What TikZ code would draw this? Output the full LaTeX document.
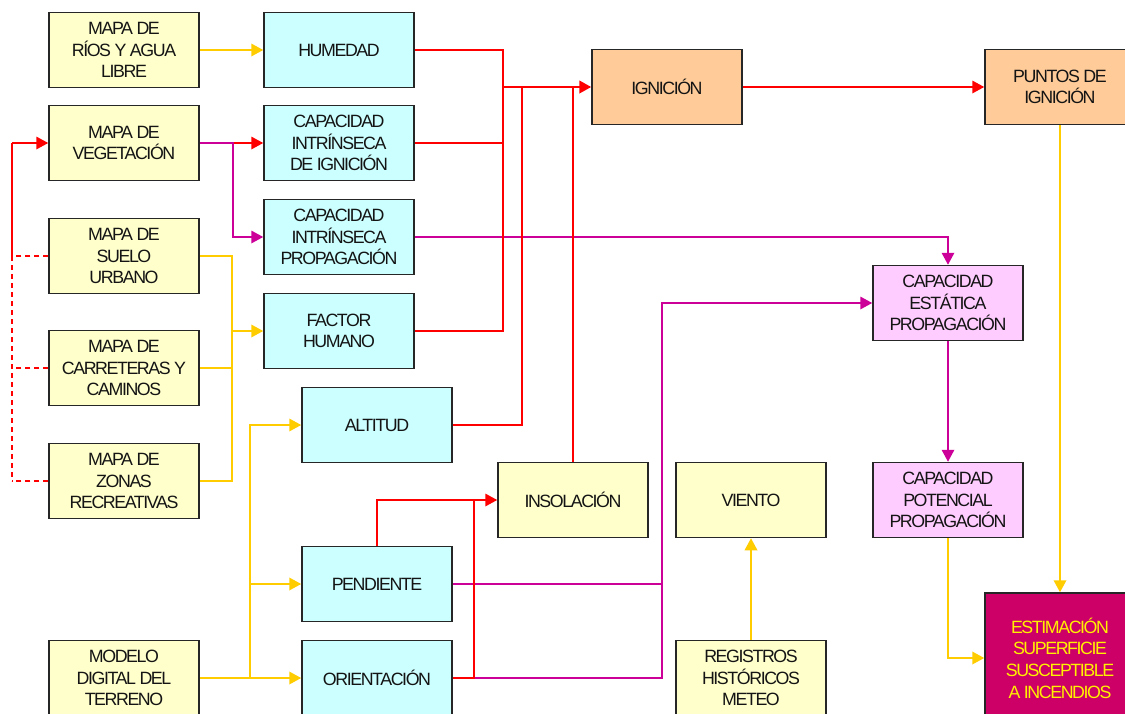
\documentclass[tikz,border=0pt]{standalone}
\usepackage{fontspec}
\setmainfont{Liberation Sans}[LetterSpace=-8]
\usetikzlibrary{arrows.meta}

\definecolor{boxyellow}{HTML}{FFFFCC}
\definecolor{boxcyan}{HTML}{CCFFFF}
\definecolor{boxorange}{HTML}{FFCC99}
\definecolor{boxpink}{HTML}{FFCCFF}
\definecolor{boxcrimson}{HTML}{CC0066}
\definecolor{lnyellow}{HTML}{FFCC00}
\definecolor{lnred}{HTML}{FF0000}
\definecolor{lnmag}{HTML}{CC0099}
\definecolor{txt}{HTML}{141414}

\tikzset{
  blk/.style={draw=black!85, line width=1.5pt, rectangle, minimum width=150pt,
    minimum height=75pt, inner sep=0pt, align=center, text=txt,
    font=\fontsize{17.8pt}{21.7pt}\selectfont},
  ybox/.style={blk, fill=boxyellow},
  cbox/.style={blk, fill=boxcyan},
  obox/.style={blk, fill=boxorange},
  pbox/.style={blk, fill=boxpink},
  tip/.style={-{Triangle[length=12pt,width=12.5pt]}},
  yl/.style={draw=lnyellow, line width=1.9pt},
  rd/.style={draw=lnred, line width=1.8pt},
  mg/.style={draw=lnmag, line width=1.8pt},
  rdash/.style={rd, dash pattern=on 5pt off 4pt},
}

\begin{document}
\begin{tikzpicture}[x=1pt, y=-1pt]
\useasboundingbox (0,0) rectangle (1125,713);
\clip (0,0) rectangle (1125,713);

% source maps
\node[ybox] (rios)  at (124,50)  {MAPA DE\\RÍOS Y AGUA\\LIBRE};
\node[ybox] (veg)   at (124,143) {MAPA DE\\VEGETACIÓN};
\node[ybox] (suelo) at (124,256) {MAPA DE\\SUELO\\URBANO};
\node[ybox] (carr)  at (124,368) {MAPA DE\\CARRETERAS Y\\CAMINOS};
\node[ybox] (zonas) at (124,481) {MAPA DE\\ZONAS\\RECREATIVAS};
\node[ybox] (mdt)   at (124,678) {MODELO\\DIGITAL DEL\\TERRENO};

% derived factors
\node[cbox] (hum)    at (339,50)  {HUMEDAD};
\node[cbox] (cii)    at (339,143) {CAPACIDAD\\INTRÍNSECA\\DE IGNICIÓN};
\node[cbox] (cip)    at (339,237) {CAPACIDAD\\INTRÍNSECA\\PROPAGACIÓN};
\node[cbox] (fh)     at (339,331) {FACTOR\\HUMANO};
\node[cbox] (alt)    at (377,425) {ALTITUD};
\node[cbox] (pend)   at (377,584) {PENDIENTE};
\node[cbox] (orient) at (377,678) {ORIENTACIÓN};

\node[ybox] (insol)  at (573,500) {INSOLACIÓN};
\node[ybox] (viento) at (751,500) {VIENTO};
\node[ybox] (reg)    at (751,678) {REGISTROS\\HISTÓRICOS\\METEO};

% results
\node[obox] (ign)    at (667,87)  {IGNICIÓN};
\node[obox] (puntos) at (1060,87) {PUNTOS DE\\IGNICIÓN};
\node[pbox] (cep)    at (948,303) {CAPACIDAD\\ESTÁTICA\\PROPAGACIÓN};
\node[pbox] (cpp)    at (948,500) {CAPACIDAD\\POTENCIAL\\PROPAGACIÓN};
\node[blk, fill=boxcrimson, text=yellow, minimum height=130pt] (est) at (1060,658)
  {ESTIMACIÓN\\SUPERFICIE\\SUSCEPTIBLE\\A INCENDIOS};

% junction points
\coordinate (lx) at (12,143);
\coordinate (lxs) at (12,256);
\coordinate (jf) at (232,331);
\coordinate (jm) at (250,678);
\coordinate (ja) at (503,87);
\coordinate (jb) at (522,87);
\coordinate (jc) at (662,303);
\coordinate (jo) at (474,678);

% feedback from urban layers to vegetation
\draw[rd, tip] (lx) -- (veg.west);
\draw[rd] (lx) -- (lxs);
\draw[rdash] (lxs) -- (lxs |- zonas.west);
\draw[rdash] (suelo.west) -- (lxs);
\draw[rdash] (carr.west) -- (carr.west -| lx);
\draw[rdash] (zonas.west) -- (zonas.west -| lx);

% map inputs
\draw[yl, tip] (rios) -- (hum);
\draw[rd, tip] (veg.east) -- (cii.west);
\draw[mg, tip] (veg.east) -- ++(33,0) |- (cip.west);
\draw[yl] (suelo.east) -| (jf);
\draw[yl] (zonas.east) -| (jf);
\draw[yl] (carr.east) -- (carr.east -| jf);
\draw[yl, tip] (jf) -- (fh.west);
\draw[yl] (mdt.east) -- (jm);
\draw[yl, tip] (jm) |- (alt.west);
\draw[yl, tip] (jm |- pend.west) -- (pend.west);
\draw[yl, tip] (jm) -- (orient.west);
\draw[yl, tip] (reg) -- (viento);

% propagation chain
\draw[mg, tip] (cip.east) -| (cep.north);
\draw[mg] (pend.east) -- (pend.east -| jc);
\draw[mg, tip] (orient.east) -| (jc) -- (cep.west);
\draw[mg, tip] (cep) -- (cpp);
\draw[yl, tip] (cpp.south) |- (est.west);
\draw[yl, tip] (puntos) -- (est);

% ignition chain
\draw[rd] (hum.east) -| (ja);
\draw[rd] (cii.east) -| (ja);
\draw[rd] (fh.east) -| (ja);
\draw[rd] (alt.east) -| (jb);
\draw[rd] (insol.north) -- (insol.north |- ign.west);
\draw[rd, line width=2.6pt, tip] (ja) -- (ign.west);
\draw[rd, tip] (ign) -- (puntos);
\draw[rd, tip] (pend.north) |- (insol.west);
\draw[rd] (orient.east) -- (jo) -- (jo |- insol.west);
\end{tikzpicture}
\end{document}
